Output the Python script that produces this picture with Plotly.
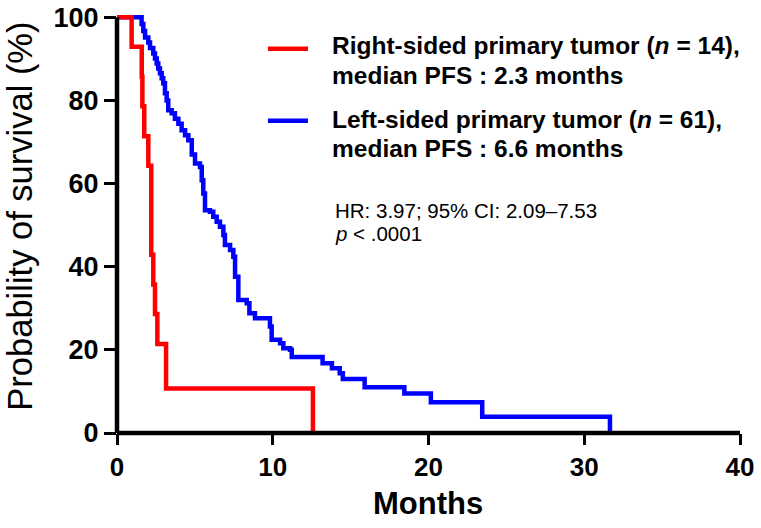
import plotly.graph_objects as go

# Kaplan-Meier step data (time in months, survival %)
right_t = [0, 0.94, 1.59, 1.63, 1.75, 2.01, 2.2, 2.33, 2.44, 2.59, 3.15, 12.58, 12.58]
right_s = [100, 92.9, 85.7, 78.6, 71.4, 64.3, 42.9, 35.7, 28.6, 21.4, 10.7, 10.7, 0]

left_t = [0, 1.37, 1.58, 1.69, 1.80, 2.01, 2.12, 2.33, 2.44, 2.55, 2.65, 2.76, 2.87,
          2.97, 3.08, 3.19, 3.29, 3.51, 3.72, 3.94, 4.15, 4.37, 4.58, 4.80, 5.01,
          5.33, 5.44, 5.54, 5.65, 5.97, 6.18, 6.40, 6.61, 6.83, 6.93, 7.26, 7.47,
          7.58, 7.79, 8.33, 8.50, 8.86, 9.82, 9.93, 10.47, 10.68, 11.11, 11.22,
          13.20, 13.80, 14.30, 14.50, 15.90, 18.45, 20.15, 23.45, 31.65, 31.65]
left_s = [100, 100, 98.4, 96.7, 95.1, 93.9, 92.6, 91.3, 90.1, 88.9, 87.7, 86.5, 85.3,
          84.1, 81.7, 80.0, 77.6, 76.9, 75.6, 74.4, 72.8, 71.6, 70.4, 67.0, 64.8,
          64.0, 60.8, 57.6, 53.6, 53.2, 52.0, 50.8, 49.6, 47.6, 45.2, 44.0, 42.4,
          37.6, 32.0, 31.2, 28.8, 27.6, 25.6, 22.4, 21.6, 20.4, 20.0, 18.3,
          16.8, 15.6, 14.4, 13.0, 11.0, 9.5, 7.4, 3.9, 3.9, 0]

x_ticks = [0, 10, 20, 30, 40]
y_ticks = [0, 20, 40, 60, 80, 100]

RED = "#ff0000"
BLUE = "#0000ff"
FONT = "Liberation Sans"

fig = go.Figure()
fig.add_trace(go.Scatter(x=left_t, y=left_s, mode="lines", line=dict(color=BLUE, width=4.5, shape="hv"),
                         showlegend=False))
fig.add_trace(go.Scatter(x=right_t, y=right_s, mode="lines", line=dict(color=RED, width=4.5, shape="hv"),
                         showlegend=False))

fig.update_layout(
    width=761, height=528,
    margin=dict(l=117, r=21, t=10.76, b=95, autoexpand=False),
    paper_bgcolor="white", plot_bgcolor="white",
    font=dict(family=FONT, color="black"),
    xaxis=dict(range=[0, 40], tickvals=x_ticks, ticktext=[str(v) for v in x_ticks],
               showgrid=False, zeroline=False, showline=False, automargin=False,
               ticks="outside", ticklen=11, tickwidth=3, tickcolor="black",
               tickfont=dict(family=FONT, size=26, weight="bold", color="black")),
    yaxis=dict(range=[0, 101.5], tickvals=y_ticks, ticktext=[str(v) for v in y_ticks],
               showgrid=False, zeroline=False, showline=False, automargin=False,
               ticks="outside", ticklen=12, tickwidth=3, tickcolor="black",
               tickfont=dict(family=FONT, size=27, weight="bold", color="black")),
)

# axis lines
fig.add_shape(type="line", xref="paper", yref="y", x0=0, x1=0, y0=0, y1=100,
              line=dict(color="black", width=4.5))
fig.add_shape(type="line", xref="x", yref="paper", x0=0, x1=40, y0=0, y1=0,
              line=dict(color="black", width=4.5))

# legend samples
fig.add_shape(type="line", xref="x", yref="y", x0=9.69, x1=12.26, y0=92.4, y1=92.4,
              line=dict(color=RED, width=4.5))
fig.add_shape(type="line", xref="x", yref="y", x0=9.69, x1=12.26, y0=75.1, y1=75.1,
              line=dict(color=BLUE, width=4.5))

def txt(x, y, s, size, bold=False, ref="", **kw):
    fig.add_annotation(x=x, y=y, xref="paper" if ref else "x", yref="paper" if ref else "y",
                       text=s, showarrow=False,
                       xanchor=kw.get("xanchor", "left"), yanchor="middle",
                       textangle=kw.get("angle", 0),
                       font=dict(family=FONT, size=size, color="black",
                                 weight="bold" if bold else "normal"))

txt(13.65, 93.2, "Right-sided primary tumor (<i>n</i> = 14),", 24.5, True)
txt(13.65, 85.9, "median PFS : 2.3 months", 24.5, True)
txt(13.65, 75.3, "Left-sided primary tumor (<i>n</i> = 61),", 24.5, True)
txt(13.65, 68.4, "median PFS : 6.6 months", 24.5, True)
txt(13.87, 53.6, "HR: 3.97; 95% CI: 2.09–7.53", 20.5)
txt(13.87, 48.1, "<i>p</i> &lt; .0001", 20.5)

txt(0.4992, -0.1670, "Months", 31, True, ref="p", xanchor="center")
txt(-0.1557, 0.515, "Probability of survival (%)", 34.5, False, ref="p", xanchor="center", angle=-90)

fig.write_html("out.html", config={"displayModeBar": False},
               post_script="document.body.style.margin='0';")
